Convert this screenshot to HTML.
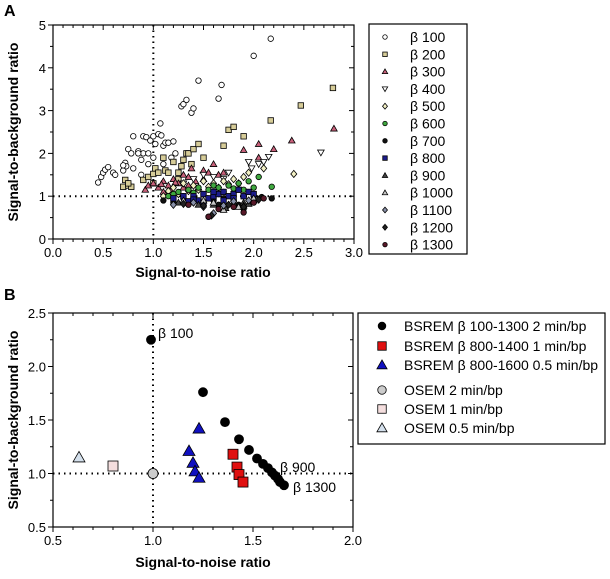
<!DOCTYPE html>
<html><head><meta charset="utf-8"><style>
body{margin:0;background:#fff;}
svg{display:block;font-family:"Liberation Sans",sans-serif;}
</style></head><body>
<svg id="svg" width="610" height="579" viewBox="0 0 610 579" xmlns="http://www.w3.org/2000/svg">
<text x="4" y="16" font-size="16" font-weight="bold">A</text>
<text x="4" y="300" font-size="16" font-weight="bold">B</text>
<text transform="translate(18,132) rotate(-90)" text-anchor="middle" font-size="14" font-weight="bold">Signal-to-background ratio</text>
<text x="203" y="277" text-anchor="middle" font-size="14" font-weight="bold">Signal-to-noise ratio</text>
<text transform="translate(18,420) rotate(-90)" text-anchor="middle" font-size="14" font-weight="bold">Signal-to-background ratio</text>
<text x="203" y="567" text-anchor="middle" font-size="14" font-weight="bold">Signal-to-noise ratio</text>
<g id="ga"></g>
<g id="gb"></g>
<g id="la"></g>
<g id="lb"></g>
</svg>
<script>
const NS="http://www.w3.org/2000/svg";
// Panel A data
const aTicksX=["0.0","0.5","1.0","1.5","2.0","2.5","3.0"];
const aTicksY=["0","1","2","3","4","5"];
const b100=[[0.45,1.32],[0.48,1.45],[0.5,1.55],[0.52,1.62],[0.55,1.68],[0.6,1.55],[0.62,1.5],[0.7,1.6],[0.72,1.78],[0.73,1.7],[0.75,2.1],[0.78,2.0],[0.8,1.65],[0.8,2.4],[0.85,2.05],[0.88,1.85],[0.9,2.0],[0.9,2.4],[0.93,2.38],[0.95,2.0],[0.97,2.3],[1.0,2.4],[1.02,2.22],[1.05,2.45],[1.07,2.7],[1.08,2.42],[1.1,2.18],[1.12,2.25],[1.15,2.25],[1.2,2.28],[1.22,2.0],[1.28,3.1],[1.3,3.15],[1.33,3.25],[1.38,2.95],[1.4,3.05],[1.45,3.7],[1.65,3.28],[1.68,3.6],[2.0,4.28],[2.17,4.68],[0.88,1.5],[0.95,1.75],[1.0,1.9],[1.1,1.75],[1.18,1.9],[0.7,1.72],[0.85,2.0]];
const b200=[[0.7,1.22],[0.72,1.38],[0.75,1.25],[0.78,1.22],[0.75,1.3],[0.9,1.38],[0.95,1.45],[1.0,1.52],[1.02,1.65],[1.05,1.55],[1.1,1.9],[1.12,1.6],[1.15,1.55],[1.2,1.8],[1.25,1.55],[1.28,1.7],[1.3,1.85],[1.33,2.0],[1.35,2.0],[1.4,2.1],[1.45,2.22],[1.5,1.9],[1.38,1.75],[1.7,2.18],[1.75,2.55],[1.8,2.62],[1.9,2.4],[2.17,2.77],[2.47,3.12],[2.79,3.53],[1.25,1.4],[1.0,1.3]];
const b300=[[0.92,1.15],[0.95,1.25],[1.0,1.3],[1.05,1.2],[1.1,1.35],[1.15,1.25],[1.2,1.4],[1.25,1.3],[1.3,1.5],[1.35,1.45],[1.38,1.65],[1.42,1.35],[1.5,1.6],[1.55,1.55],[1.6,1.75],[1.65,1.5],[1.7,1.55],[1.9,2.08],[2.05,2.22],[2.05,1.9],[2.2,2.1],[2.38,2.3],[2.8,2.58],[1.1,1.1],[1.3,1.2],[1.45,1.2],[1.08,1.28],[1.18,1.15],[1.22,1.32],[1.35,1.25],[1.5,1.4]];
const b400=[[1.4,1.4],[1.5,1.5],[1.6,1.45],[1.75,1.55],[1.95,1.8],[1.98,1.65],[2.05,1.75],[2.15,1.92],[2.1,1.8],[2.67,2.02],[1.3,1.3],[1.7,1.4]];
const b500=[[1.2,1.2],[1.3,1.3],[1.4,1.25],[1.5,1.35],[1.6,1.3],[1.7,1.35],[1.8,1.4],[1.9,1.45],[1.95,1.55],[2.1,1.65],[2.4,1.52],[1.25,1.05],[1.45,1.15],[1.65,1.2],[1.85,1.3],[1.1,1.0],[1.15,1.12],[1.35,1.12],[1.55,1.22],[1.75,1.28]];
const b600=[[1.15,1.0],[1.25,1.1],[1.35,1.15],[1.45,1.2],[1.55,1.15],[1.65,1.2],[1.75,1.25],[1.85,1.3],[1.95,1.35],[2.05,1.45],[2.18,1.22],[1.5,1.05],[1.7,1.1],[1.9,1.15],[1.3,1.0],[1.6,1.25],[1.2,1.05],[1.4,1.08],[1.8,1.18],[2.0,1.2]];
const b700=[[1.1,0.9],[1.2,0.85],[1.3,0.95],[1.4,0.9],[1.5,0.85],[1.6,0.9],[1.7,0.95],[1.8,0.9],[1.9,0.7],[2.0,1.0],[2.08,0.98],[2.18,0.95],[1.55,0.52],[1.65,0.8],[1.85,0.8]];
const b800=[[1.2,0.95],[1.3,1.0],[1.4,1.0],[1.45,0.9],[1.5,1.05],[1.55,0.95],[1.6,1.0],[1.65,1.05],[1.7,1.1],[1.75,1.0],[1.8,1.05],[1.85,1.15],[1.9,1.0],[1.95,1.1],[2.0,1.05],[1.5,0.85],[1.7,0.9],[1.35,0.88],[1.6,1.1],[1.8,0.95],[1.4,0.92]];
const b900=[[1.25,0.85],[1.45,0.8],[1.6,0.8],[1.72,0.72],[1.8,0.85],[1.9,0.85],[2.0,0.9],[1.95,0.82]];
const b1000=[[1.3,0.9],[1.5,0.9],[1.7,0.68],[1.85,0.75],[1.9,0.78],[2.0,0.95],[1.6,0.85]];
const b1100=[[1.2,0.8],[1.4,0.85],[1.6,0.6],[1.7,0.78],[1.8,0.88],[1.95,0.9],[1.5,0.75]];
const b1200=[[1.3,0.82],[1.5,0.78],[1.58,0.55],[1.75,0.8],[1.9,0.75],[2.05,0.92]];
const b1300=[[1.35,0.8],[1.55,0.52],[1.65,0.7],[1.8,0.75],[1.9,0.62],[2.0,0.85],[2.1,0.95]];
// Panel B data
const bTicksX=["0.5","1.0","1.5","2.0"];
const bTicksY=["0.5","1.0","1.5","2.0","2.5"];
const bsrem2=[[0.99,2.25],[1.25,1.76],[1.36,1.48],[1.43,1.32],[1.48,1.22],[1.52,1.14],[1.55,1.09],[1.575,1.05],[1.595,1.01],[1.61,0.98],[1.625,0.95],[1.635,0.92],[1.655,0.89]];
const bsrem1=[[1.40,1.18],[1.42,1.06],[1.43,0.99],[1.45,0.92]];
const bsrem05=[[1.23,1.42],[1.18,1.21],[1.2,1.1],[1.21,1.02],[1.23,0.96]];
const osem2=[[1.0,1.0]];
const osem1=[[0.8,1.07]];
const osem05=[[0.63,1.15]];

function el(tag,attrs,parent){const e=document.createElementNS(NS,tag);for(const k in attrs)e.setAttribute(k,attrs[k]);parent.appendChild(e);return e;}
function marker(g,shape,cx,cy,s,fill){
  let e;
  if(shape==="circle")e=el("circle",{cx:cx,cy:cy,r:s/2},g);
  else if(shape==="square")e=el("rect",{x:cx-s/2,y:cy-s/2,width:s,height:s},g);
  else if(shape==="tri")e=el("polygon",{points:`${cx},${cy-s*0.6} ${cx-s*0.6},${cy+s*0.45} ${cx+s*0.6},${cy+s*0.45}`},g);
  else if(shape==="dtri")e=el("polygon",{points:`${cx},${cy+s*0.6} ${cx-s*0.6},${cy-s*0.45} ${cx+s*0.6},${cy-s*0.45}`},g);
  else e=el("polygon",{points:`${cx},${cy-s*0.65} ${cx+s*0.55},${cy} ${cx},${cy+s*0.65} ${cx-s*0.55},${cy}`},g);
  e.setAttribute("fill",fill);e.setAttribute("stroke","#000");e.setAttribute("stroke-width","0.8");
  return e;
}
function axes(g,L,R,T,B,xs,ys,xv,yv,xmin,ymin,refx,refy,minorX,minorY){
  el("rect",{x:L,y:T,width:R-L,height:B-T,fill:"none",stroke:"#000","stroke-width":1.2},g);
  const sx=xs,sy=ys;
  minorX.forEach(v=>{const x=sx(v);el("line",{x1:x,x2:x,y1:B,y2:B+3,stroke:"#000"},g);el("line",{x1:x,x2:x,y1:T,y2:T+3,stroke:"#000"},g);});
  minorY.forEach(v=>{const y=sy(v);el("line",{x1:L-3,x2:L,y1:y,y2:y,stroke:"#000"},g);el("line",{x1:R-3,x2:R,y1:y,y2:y,stroke:"#000"},g);});
  xv.forEach(t=>{const x=sx(parseFloat(t));el("line",{x1:x,x2:x,y1:B,y2:B+5,stroke:"#000"},g);el("line",{x1:x,x2:x,y1:T,y2:T+5,stroke:"#000"},g);
    const tx=el("text",{x:x,y:B+18,"text-anchor":"middle","font-size":13},g);tx.textContent=t;
    
    });
  yv.forEach(t=>{const y=sy(parseFloat(t));el("line",{x1:L-5,x2:L,y1:y,y2:y,stroke:"#000"},g);el("line",{x1:R-5,x2:R,y1:y,y2:y,stroke:"#000"},g);
    const tx=el("text",{x:L-7,y:y+5,"text-anchor":"end","font-size":13},g);tx.textContent=t;
    
    });
  const rx=el("line",{x1:sx(refx),x2:sx(refx),y1:T,y2:B,stroke:"#000","stroke-width":2,"stroke-dasharray":"1.5 4"},g);
  
  
  const ry=el("line",{x1:L,x2:R,y1:sy(refy),y2:sy(refy),stroke:"#000","stroke-width":2,"stroke-dasharray":"1.5 4"},g);
  
  
}
// Panel A
const ga=document.getElementById("ga");
const axL=53,axR=354,axT=25,axB=239;
const ax=v=>axL+(v-0)/3*(axR-axL), ay=v=>axB-(v/5)*(axB-axT);
const mA=[];for(let i=1;i<30;i++)if(i%5)mA.push(i/10);
const mAy=[0.5,1.5,2.5,3.5,4.5];
axes(ga,axL,axR,axT,axB,ax,ay,aTicksX,aTicksY,0,0,1,1,mA,mAy);
const seriesA=[
 ["β 100",b100,"circle","#ffffff"],["β 200",b200,"square","#d6cc98"],["β 300",b300,"tri","#c8607a"],
 ["β 400",b400,"dtri","#ffffff"],["β 500",b500,"diamond","#f2f0c4"],["β 600",b600,"circle","#3fa83f"],
 ["β 700",b700,"circle","#111111"],["β 800",b800,"square","#1c1c8a"],["β 900",b900,"tri","#444444"],
 ["β 1000",b1000,"tri","#c8c8c8"],["β 1100",b1100,"diamond","#8890a8"],["β 1200",b1200,"diamond","#222222"],
 ["β 1300",b1300,"circle","#581828"]];
const la=document.getElementById("la");
el("rect",{x:369,y:24,width:98,height:230,fill:"#fff",stroke:"#000","stroke-width":1.2},la);
seriesA.forEach((s,i)=>{
  const g=el("g",{},ga);
  
  
  s[1].forEach(p=>{const m=marker(g,s[2],ax(p[0]),ay(p[1]),5.5,s[3]);
    
    });
  const y=37+i*17.3;
  const lm=marker(la,s[2],385,y,4.5,s[3]);
  
  
  const t=el("text",{x:410,y:y+5,"font-size":14},la);t.textContent=s[0];
  
  
});
// Panel B
const gb=document.getElementById("gb");
const bxL=53,bxR=353,bxT=313,bxB=527;
const bx=v=>bxL+(v-0.5)/1.5*(bxR-bxL), by=v=>bxB-(v-0.5)/2*(bxB-bxT);
const mB=[];for(let i=6;i<20;i++)if(i%5)mB.push(i/10);
const mBy=[0.75,1.25,1.75,2.25];
axes(gb,bxL,bxR,bxT,bxB,bx,by,bTicksX,bTicksY,0.5,0.5,1,1,mB,mBy);
const seriesB=[
 ["BSREM β 100-1300 2 min/bp",bsrem2,"circle","#000000",9,326],
 ["BSREM β 800-1400 1 min/bp",bsrem1,"square","#e01010",10,346],
 ["BSREM β 800-1600 0.5 min/bp",bsrem05,"tri","#1010c0",10,365],
 ["OSEM 2 min/bp",osem2,"circle","#cccccc",10,390],
 ["OSEM 1 min/bp",osem1,"square","#f4dede",10,409],
 ["OSEM 0.5 min/bp",osem05,"tri","#d4e0ec",10,428]];
const lb=document.getElementById("lb");
el("rect",{x:358,y:313,width:247,height:131,fill:"#fff",stroke:"#000","stroke-width":1.2},lb);
seriesB.forEach(s=>{
  const g=el("g",{},gb);
  
  
  s[1].forEach(p=>{const m=marker(g,s[2],bx(p[0]),by(p[1]),s[4],s[3]);
    
    });
  const lm=marker(lb,s[2],382,s[5],s[4]*0.85,s[3]);
  
  
  const t=el("text",{x:404,y:s[5]+5,"font-size":14},lb);t.textContent=s[0];
  
  
});
[["β 100",158,338],["β 900",280,472],["β 1300",293,492]].forEach(a=>{
  const t=el("text",{x:a[1],y:a[2],"font-size":14},gb);t.textContent=a[0];
  
  
});
</script>
</body></html>
